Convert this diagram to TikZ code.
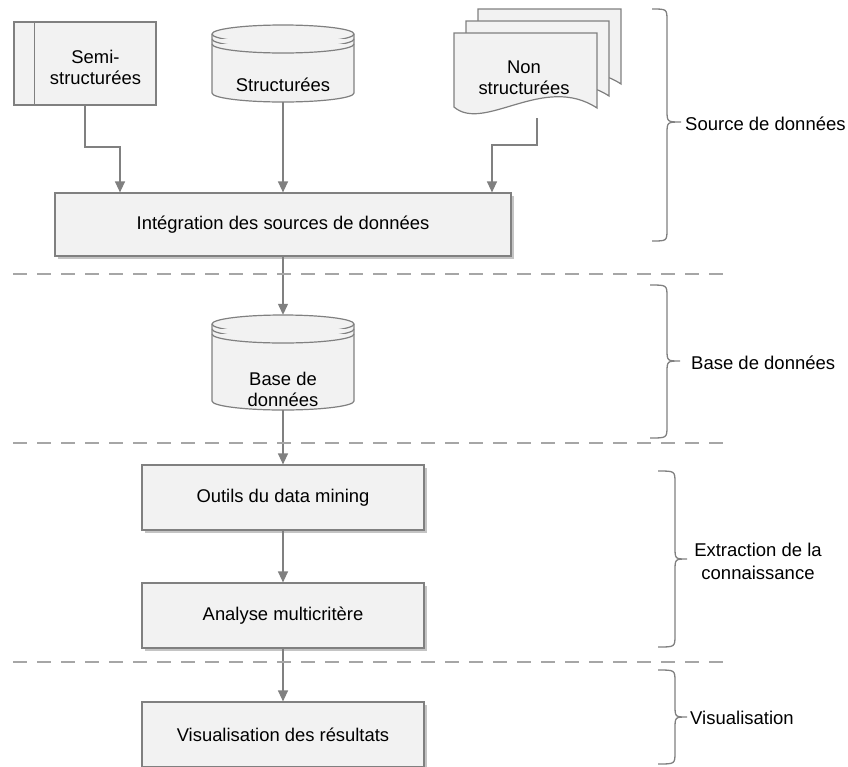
\documentclass[tikz,border=0pt]{standalone}
\usepackage{fontspec}
\setmainfont{Liberation Sans}
\usetikzlibrary{arrows.meta,calc,shadows}
\definecolor{bfill}{HTML}{F2F2F2}
\definecolor{bline}{HTML}{808080}
\definecolor{shad}{HTML}{C4C4C4}
\definecolor{dashc}{HTML}{A6A6A6}
\newcommand\mybrace[6]{%
  \draw[brc] (#1,#4) .. controls (#2,#4) .. (#2,#4+12) -- (#2,#5-12)
    .. controls (#2,#5) .. (#3,#5) .. controls (#2,#5) .. (#2,#5+12)
    -- (#2,#6-12) .. controls (#2,#6) .. (#1,#6);}
\newcommand\mycyl[1]{% #1 = height between ellipse centres
  \filldraw[shp] (0,0) -- (0,#1) arc[start angle=180,end angle=0,x radius=71,y radius=9]
    -- (142,0) arc[start angle=0,end angle=-180,x radius=71,y radius=9] -- cycle;
  \draw[shp] (0,0) arc[start angle=180,end angle=0,x radius=71,y radius=9];
  \draw[shp] (0,5) arc[start angle=180,end angle=0,x radius=71,y radius=9];
  \draw[shp] (0,10) arc[start angle=180,end angle=0,x radius=71,y radius=9];}
\newcommand\mydoc{%
  \filldraw[shp] (0,0) -- (143,0) -- (143,75) .. controls (90,40) and (30,100) .. (0,74) -- cycle;}
\begin{document}
\begin{tikzpicture}[x=1pt,y=-1pt,
  shp/.style={draw=bline, fill=bfill, line width=1.2pt},
  procbox/.style={draw=bline, fill=bfill, line width=1.2pt, inner sep=0pt,
    font=\fontsize{18.4}{21}\selectfont, align=center},
  shadowed/.style={drop shadow={shadow xshift=2.5pt,shadow yshift=-2.5pt,fill=shad,opacity=1}},
  ghost/.style={inner sep=0pt, draw=none},
  lbl/.style={font=\fontsize{18.4}{21}\selectfont, align=center, inner sep=0pt},
  side/.style={font=\fontsize{18.5}{23}\selectfont, align=center, inner sep=0pt},
  arr/.style={draw=bline, line width=1.3pt, -{Triangle[width=10pt,length=11pt]}},
  sep/.style={draw=dashc, line width=1.8pt, dash pattern=on 14pt off 10pt},
  brc/.style={draw=bline, line width=1.3pt}]
\useasboundingbox (0,0) rectangle (848,766);
\clip (0,0) rectangle (848,766);

% Semi-structurees
\node[procbox, minimum width=142pt, minimum height=83pt] (semi) at (85,63.5) {};
\draw[bline, line width=1.2pt] ($(semi.north west)+(21,0)$) -- ($(semi.south west)+(21,0)$);
\node[lbl] (semitxt) at (95.5,67) {Semi-\\structurées};

% Structurees
\begin{scope}[shift={(212,34)}]\mycyl{59}\end{scope}
\node[ghost, minimum width=142pt, minimum height=77pt] (struct) at (283,63.5) {};
\node[lbl] (structtxt) at (283,85) {Structurées};

% Non structurees
\begin{scope}[shift={(478,9)}]\mydoc\end{scope}
\begin{scope}[shift={(466,21)}]\mydoc\end{scope}
\begin{scope}[shift={(454,33)}]\mydoc\end{scope}
\node[ghost, minimum width=143pt, minimum height=85pt] (non) at (525.5,75.5) {};
\node[lbl] (nontxt) at (524,77.5) {Non\\structurées};

% Integration
\node[procbox, shadowed, minimum width=456pt, minimum height=63pt] (int) at (283,224.5) {Intégration des sources de données};

% Base de donnees
\begin{scope}[shift={(212,324)}]\mycyl{77}\end{scope}
\node[ghost, minimum width=142pt, minimum height=95pt] (base) at (283,362.5) {};
\node[lbl] (basetxt) at (283,389) {Base de\\données};

% Process boxes
\node[procbox, shadowed, minimum width=282pt, minimum height=65pt] (outils) at (283,497.5) {Outils du data mining};
\node[procbox, shadowed, minimum width=282pt, minimum height=65pt] (analyse) at (283,615.5) {Analyse multicritère};
\node[procbox, shadowed, minimum width=282pt, minimum height=65pt] (visu) at (283,734.5) {Visualisation des résultats};

% Connectors
\coordinate (s1) at (120,147);
\draw[arr] (semi.south) |- (s1) -- (s1 |- int.north);
\draw[arr] (struct.south) -- (struct.south |- int.north);
\coordinate (n1) at (492,145);
\draw[arr] ([xshift=11.5pt]non.south) |- (n1) -- (n1 |- int.north);
\draw[arr] (int.south) -- (base.north);
\draw[arr] (base.south) -- (outils.north);
\draw[arr] (outils.south) -- (analyse.north);
\draw[arr] (analyse.south) -- (visu.north);

% Separators
\coordinate (d1l) at (13,274); \coordinate (d1r) at (728,274);
\coordinate (d2l) at (13,443); \coordinate (d2r) at (728,443);
\coordinate (d3l) at (13,662); \coordinate (d3r) at (728,662);
\draw[sep] (d1l) -- (d1r);
\draw[sep] (d2l) -- (d2r);
\draw[sep] (d3l) -- (d3r);

% Braces
\mybrace{652}{667}{681}{9}{122}{241}
\mybrace{650}{667}{680}{285}{361}{438}
\mybrace{658}{675}{687}{471}{559}{647}
\mybrace{658}{675}{687}{670}{717}{764}

% Side labels
\node[side, anchor=west] (lsrc) at (685,124) {Source de données};
\node[side, anchor=west] (lbase) at (691,363) {Base de données};
\node[side] (lext) at (758,561) {Extraction de la\\connaissance};
\node[side, anchor=west] (lvis) at (690,718) {Visualisation};
\end{tikzpicture}
\end{document}
